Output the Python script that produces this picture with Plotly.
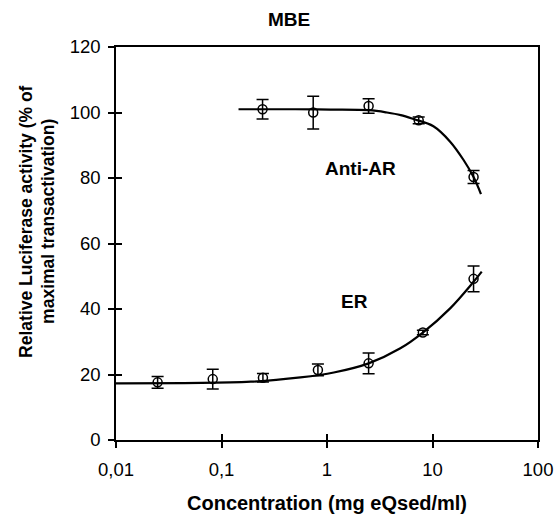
import plotly.graph_objects as go

# ---- data ----
anti_x = [0.245, 0.74, 2.48, 7.4, 24.5]
anti_y = [101.0, 100.0, 102.0, 97.6, 80.3]
anti_err = [3.0, 5.0, 2.2, 1.0, 2.0]

er_x = [0.0248, 0.0826, 0.247, 0.82, 2.48, 8.1, 24.5]
er_y = [17.6, 18.6, 19.0, 21.4, 23.4, 32.8, 49.2]
er_err = [1.8, 3.0, 1.3, 1.8, 3.2, 0.7, 3.9]

anti_curve_x = [0.145, 0.5, 1.08, 2.5, 3.7, 5.0, 6.6, 10.2, 14.7, 19.7, 24.5, 28.8]
anti_curve_y = [101.0, 101.0, 100.9, 100.7, 100.0, 99.2, 98.0, 95.8, 91.1, 85.5, 80.3, 75.1]

er_curve_x = [0.01, 0.19, 0.56, 1.16, 2.48, 4.96, 8.1, 14.7, 24.5, 29.3]
er_curve_y = [17.3, 17.8, 19.1, 20.6, 23.4, 28.0, 32.8, 40.2, 48.3, 51.4]

x_tickvals = [0.01, 0.1, 1, 10, 100]
x_ticktext = ["0,01", "0,1", "1", "10", "100"]
y_tickvals = [0, 20, 40, 60, 80, 100, 120]

y_title_lines = ["Relative Luciferase activity (% of", "maximal transactivation)"]

FONT = "Liberation Sans, Arial, sans-serif"
TICK_FS = 18.5
TITLE_FS = 19

fig = go.Figure()

fig.add_trace(go.Scatter(x=anti_curve_x, y=anti_curve_y, mode="lines",
                         line=dict(color="black", width=2.2, shape="spline"),
                         showlegend=False, hoverinfo="skip"))
fig.add_trace(go.Scatter(x=er_curve_x, y=er_curve_y, mode="lines",
                         line=dict(color="black", width=2.2, shape="spline"),
                         showlegend=False, hoverinfo="skip"))

for xs, ys, es in [(anti_x, anti_y, anti_err), (er_x, er_y, er_err)]:
    fig.add_trace(go.Scatter(
        x=xs, y=ys, mode="markers",
        marker=dict(symbol="circle-open", size=9, color="black", line=dict(width=1.5)),
        error_y=dict(type="data", array=es, visible=True, color="black",
                     thickness=1.5, width=6),
        showlegend=False))

# invisible trace to activate overlay axes for crossing ticks
fig.add_trace(go.Scatter(x=[0.01], y=[0], xaxis="x2", yaxis="y2", mode="markers",
                         marker=dict(opacity=0), showlegend=False, hoverinfo="skip"))

axis_common = dict(showgrid=False, zeroline=False, showline=True, linecolor="black",
                   linewidth=1.5, ticks="outside", ticklen=6, tickwidth=1.5,
                   tickcolor="black", automargin=False,
                   tickfont=dict(family=FONT, size=TICK_FS, color="black"))
overlay_common = dict(showticklabels=False, showgrid=False, zeroline=False,
                      showline=False, ticks="inside", ticklen=6, tickwidth=1.5,
                      tickcolor="black", automargin=False)

annotations = [
    dict(text="<b>MBE</b>", xref="paper", yref="paper", x=0.41, y=1.0,
         xanchor="center", yanchor="middle",
         yshift=28, showarrow=False, font=dict(size=TITLE_FS)),
    dict(text="<b>Anti-AR</b>", x=0.317, y=82.8, xref="x", yref="y",
         xanchor="center", yanchor="middle",
         showarrow=False, font=dict(size=TITLE_FS)),
    dict(text="<b>ER</b>", x=0.26, y=42.4, xref="x", yref="y",
         xanchor="center", yanchor="middle",
         showarrow=False, font=dict(size=TITLE_FS)),
    dict(text="<b>Concentration (mg eQsed/ml)</b>", xref="paper", yref="paper",
         x=0.5, y=0, xanchor="center", yanchor="middle",
         yshift=-63, showarrow=False, font=dict(size=20)),
]
for line, shift in zip(y_title_lines, [-90, -68]):
    annotations.append(dict(text="<b>%s</b>" % line, xref="paper", yref="paper",
                            x=0, y=0.555, xshift=shift, textangle=-90,
                            xanchor="center", yanchor="middle",
                            showarrow=False, font=dict(size=17.5)))

fig.update_layout(
    width=558, height=522,
    margin=dict(l=116, r=20, t=47, b=82, autoexpand=False),
    paper_bgcolor="white", plot_bgcolor="white",
    font=dict(family=FONT, size=TITLE_FS, color="black"),
    xaxis=dict(type="log", range=[-2, 2], tickvals=x_tickvals, ticktext=x_ticktext,
               mirror=True, ticklabelstandoff=6, **axis_common),
    yaxis=dict(range=[0, 120], tickvals=y_tickvals, mirror=True,
               ticklabelstandoff=4, **axis_common),
    xaxis2=dict(type="log", range=[-2, 2], tickvals=x_tickvals, overlaying="x",
                anchor="y2", **overlay_common),
    yaxis2=dict(range=[0, 120], tickvals=y_tickvals, overlaying="y", anchor="x2",
                side="left", **overlay_common),
    annotations=annotations,
)

fig.write_html("out.html", config={"displayModeBar": False},
               post_script="document.body.style.margin='0';document.body.style.padding='0';")
